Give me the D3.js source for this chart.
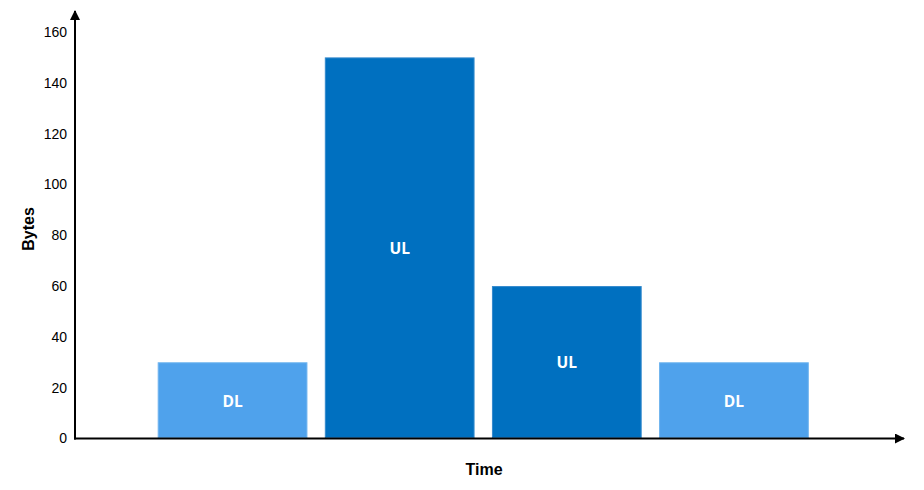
<!DOCTYPE html>
<html><head><meta charset="utf-8">
<script src="https://cdn.jsdelivr.net/npm/d3@7"></script>
<style>body{margin:0;background:#fff}svg{display:block}</style>
</head><body><svg id="c" width="924" height="490"></svg>
<script>
const categories = ["DL1","UL1","UL2","DL2"];
const labels = ["DL","UL","UL","DL"];
const values = [30,150,60,30];
const kinds = ["DL","UL","UL","DL"];
const yTicks = [0,20,40,60,80,100,120,140,160];
const fills = {DL:"#4fa2ec", UL:"#0070c0"};
const strokes = {DL:"#6fb4ef", UL:"#3389cc"};

const svg = d3.select("#c");
const x0 = 75, y0 = 438.5;
const y = d3.scaleLinear().domain([0,160]).range([y0, 32]);
const x = d3.scaleBand().domain(categories).range([149,817.5]).paddingInner(0.104).paddingOuter(0.052);

svg.append("defs").append("marker").attr("id","arr").attr("viewBox","0 0 10 10")
  .attr("refX",9).attr("refY",5).attr("markerWidth",5).attr("markerHeight",5)
  .attr("markerUnits","strokeWidth").attr("orient","auto")
  .append("path").attr("d","M0,0 L10,5 L0,10 Z").attr("fill","#000");

svg.selectAll("rect.bar").data(values).join("rect").attr("class","bar")
  .attr("x",(d,i)=>x(categories[i])+0.5).attr("y",d=>y(d)+0.5)
  .attr("width",x.bandwidth()-1).attr("height",d=>y(0)-y(d)-1.5)
  .attr("fill",(d,i)=>fills[kinds[i]]).attr("stroke",(d,i)=>strokes[kinds[i]]).attr("stroke-width",1);

svg.selectAll("text.bl").data(values).join("text").attr("class","bl")
  .attr("x",(d,i)=>x(categories[i])+x.bandwidth()/2)
  .attr("y",d=>(y(d)+y(0))/2+2)
  .attr("text-anchor","middle").attr("dominant-baseline","middle")
  .attr("fill","#fff").attr("font-family","'Open Sans', sans-serif").attr("font-weight","bold").attr("font-size",15.5)
  .text((d,i)=>labels[i]);

const yAxis = d3.axisLeft(y).tickValues(yTicks).tickSize(0).tickPadding(8);
const g = svg.append("g").attr("transform",`translate(${x0},0)`).call(yAxis);
g.select(".domain").remove();
g.selectAll("text").attr("font-family","'Liberation Sans', Arial, sans-serif").attr("font-size",14).attr("fill","#000");

svg.append("line").attr("x1",x0).attr("x2",x0).attr("y1",y0+1).attr("y2",11)
  .attr("stroke","#000").attr("stroke-width",2).attr("marker-end","url(#arr)");
svg.append("line").attr("x1",x0-1).attr("x2",904).attr("y1",y0).attr("y2",y0)
  .attr("stroke","#000").attr("stroke-width",2).attr("marker-end","url(#arr)");

svg.append("text").attr("x",484).attr("y",475).attr("text-anchor","middle")
  .attr("font-family","'Liberation Sans', Arial, sans-serif").attr("font-weight","bold").attr("font-size",16).text("Time");
svg.append("text").attr("transform","translate(34,229) rotate(-90)").attr("text-anchor","middle")
  .attr("font-family","'Liberation Sans', Arial, sans-serif").attr("font-weight","bold").attr("font-size",16).text("Bytes");
</script></body></html>
